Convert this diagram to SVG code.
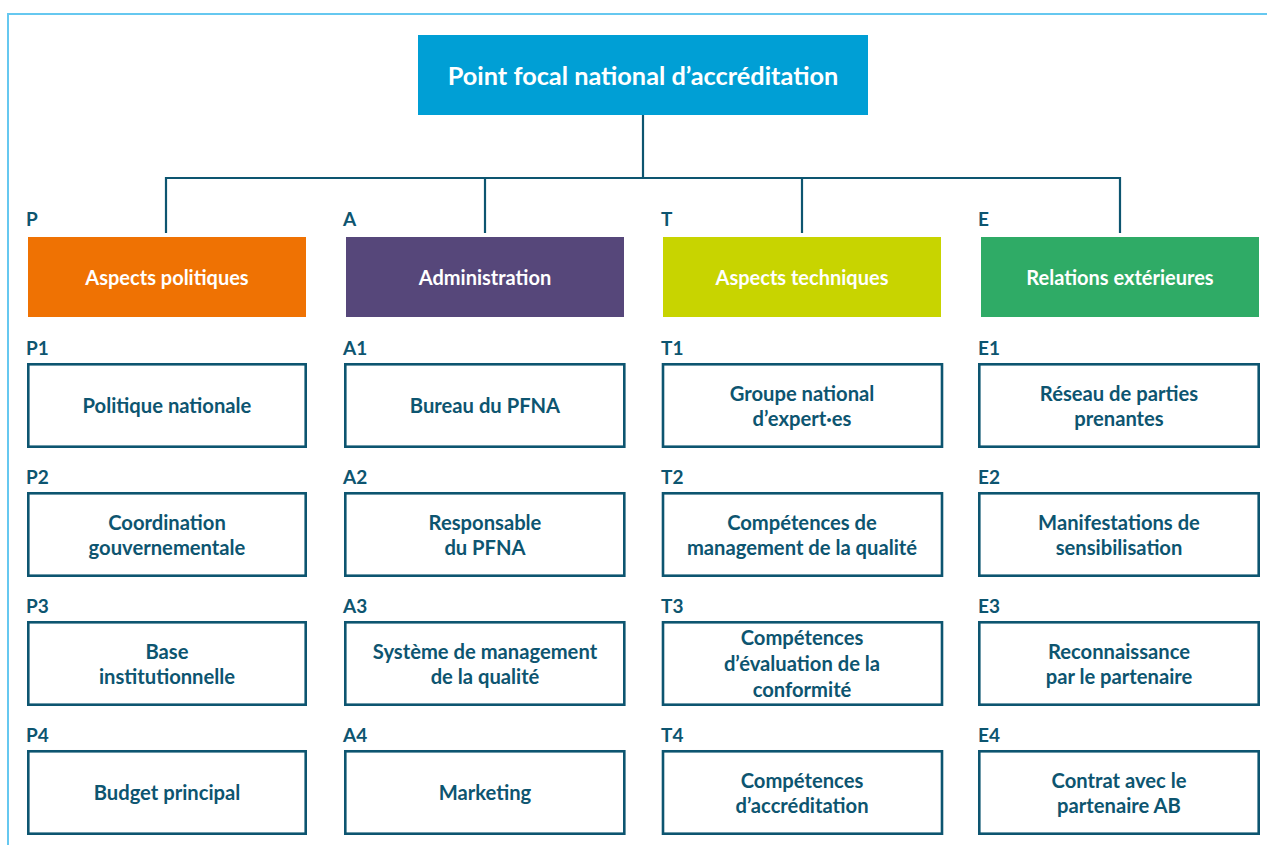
<svg xmlns="http://www.w3.org/2000/svg" width="1267" height="845" viewBox="0 0 1267 845">
  <style>
    text { font-family: Lato, "Open Sans", "Liberation Sans", sans-serif; font-weight: 700; }
    .frame { fill: none; stroke: #66c8f0; stroke-width: 2; }
    .link { fill: none; stroke: #0d5570; stroke-width: 2.2; }
    .title { fill: #ffffff; font-size: 25.3px; text-anchor: middle; }
    .head { fill: #ffffff; font-size: 20px; text-anchor: middle; }
    .code { fill: #0d5570; font-size: 19px; }
    .box { fill: #ffffff; stroke: #0d5570; stroke-width: 2.6; }
    .item { fill: #0d5570; font-size: 20.2px; text-anchor: middle; }
  </style>

  <!-- outer frame (open to the right and bottom) -->
  <path class="frame" d="M8,845 V14 H1267"/>

  <!-- connectors -->
  <g id="connectors">
    <path class="link" d="M643,115 V178"/>
    <path class="link" d="M166,233 V178 H1120 V233"/>
    <path class="link" d="M485,178 V233"/>
    <path class="link" d="M802,178 V233"/>
  </g>

  <!-- root -->
  <g id="root">
    <rect x="418" y="35" width="450" height="80" fill="#009fd5"/>
    <text class="title" x="643" y="85">Point focal national d’accréditation</text>
  </g>

  <!-- category headers -->
  <g id="cat-P">
    <text class="code" x="26" y="226">P</text>
    <rect x="28" y="237" width="278" height="80" fill="#ef7203"/>
    <text class="head" x="167" y="285">Aspects politiques</text>
  </g>
  <g id="cat-A">
    <text class="code" x="343" y="226">A</text>
    <rect x="346" y="237" width="278" height="80" fill="#56477a"/>
    <text class="head" x="485" y="285">Administration</text>
  </g>
  <g id="cat-T">
    <text class="code" x="661" y="226">T</text>
    <rect x="663" y="237" width="278" height="80" fill="#c8d400"/>
    <text class="head" x="802" y="285">Aspects techniques</text>
  </g>
  <g id="cat-E">
    <text class="code" x="978" y="226">E</text>
    <rect x="981" y="237" width="278" height="80" fill="#2fab66"/>
    <text class="head" x="1120" y="285">Relations extérieures</text>
  </g>

  <!-- P column -->
  <g id="P1">
    <text class="code" x="26" y="355">P1</text>
    <rect class="box" x="28.3" y="364.3" width="277.4" height="82.4"/>
    <text class="item" x="167" y="413">Politique nationale</text>
  </g>
  <g id="P2">
    <text class="code" x="26" y="484">P2</text>
    <rect class="box" x="28.3" y="493.3" width="277.4" height="82.4"/>
    <text class="item" x="167" y="529.5">Coordination</text>
    <text class="item" x="167" y="555">gouvernementale</text>
  </g>
  <g id="P3">
    <text class="code" x="26" y="613">P3</text>
    <rect class="box" x="28.3" y="622.3" width="277.4" height="82.4"/>
    <text class="item" x="167" y="658.5">Base</text>
    <text class="item" x="167" y="684">institutionnelle</text>
  </g>
  <g id="P4">
    <text class="code" x="26" y="742">P4</text>
    <rect class="box" x="28.3" y="751.3" width="277.4" height="82.4"/>
    <text class="item" x="167" y="800">Budget principal</text>
  </g>

  <!-- A column -->
  <g id="A1">
    <text class="code" x="343" y="355">A1</text>
    <rect class="box" x="345.3" y="364.3" width="279" height="82.4"/>
    <text class="item" x="485" y="413">Bureau du PFNA</text>
  </g>
  <g id="A2">
    <text class="code" x="343" y="484">A2</text>
    <rect class="box" x="345.3" y="493.3" width="279" height="82.4"/>
    <text class="item" x="485" y="529.5">Responsable</text>
    <text class="item" x="485" y="555">du PFNA</text>
  </g>
  <g id="A3">
    <text class="code" x="343" y="613">A3</text>
    <rect class="box" x="345.3" y="622.3" width="279" height="82.4"/>
    <text class="item" x="485" y="658.5">Système de management</text>
    <text class="item" x="485" y="684">de la qualité</text>
  </g>
  <g id="A4">
    <text class="code" x="343" y="742">A4</text>
    <rect class="box" x="345.3" y="751.3" width="279" height="82.4"/>
    <text class="item" x="485" y="800">Marketing</text>
  </g>

  <!-- T column -->
  <g id="T1">
    <text class="code" x="661" y="355">T1</text>
    <rect class="box" x="663" y="364.3" width="279" height="82.4"/>
    <text class="item" x="802" y="400.5">Groupe national</text>
    <text class="item" x="802" y="426">d’expert·es</text>
  </g>
  <g id="T2">
    <text class="code" x="661" y="484">T2</text>
    <rect class="box" x="663" y="493.3" width="279" height="82.4"/>
    <text class="item" x="802" y="529.5">Compétences de</text>
    <text class="item" x="802" y="555">management de la qualité</text>
  </g>
  <g id="T3">
    <text class="code" x="661" y="613">T3</text>
    <rect class="box" x="663" y="622.3" width="279" height="82.4"/>
    <text class="item" x="802" y="645">Compétences</text>
    <text class="item" x="802" y="671">d’évaluation de la</text>
    <text class="item" x="802" y="697">conformité</text>
  </g>
  <g id="T4">
    <text class="code" x="661" y="742">T4</text>
    <rect class="box" x="663" y="751.3" width="279" height="82.4"/>
    <text class="item" x="802" y="787.5">Compétences</text>
    <text class="item" x="802" y="813">d’accréditation</text>
  </g>

  <!-- E column -->
  <g id="E1">
    <text class="code" x="978" y="355">E1</text>
    <rect class="box" x="979.3" y="364.3" width="279.4" height="82.4"/>
    <text class="item" x="1119" y="400.5">Réseau de parties</text>
    <text class="item" x="1119" y="426">prenantes</text>
  </g>
  <g id="E2">
    <text class="code" x="978" y="484">E2</text>
    <rect class="box" x="979.3" y="493.3" width="279.4" height="82.4"/>
    <text class="item" x="1119" y="529.5">Manifestations de</text>
    <text class="item" x="1119" y="555">sensibilisation</text>
  </g>
  <g id="E3">
    <text class="code" x="978" y="613">E3</text>
    <rect class="box" x="979.3" y="622.3" width="279.4" height="82.4"/>
    <text class="item" x="1119" y="658.5">Reconnaissance</text>
    <text class="item" x="1119" y="684">par le partenaire</text>
  </g>
  <g id="E4">
    <text class="code" x="978" y="742">E4</text>
    <rect class="box" x="979.3" y="751.3" width="279.4" height="82.4"/>
    <text class="item" x="1119" y="787.5">Contrat avec le</text>
    <text class="item" x="1119" y="813">partenaire AB</text>
  </g>
</svg>
